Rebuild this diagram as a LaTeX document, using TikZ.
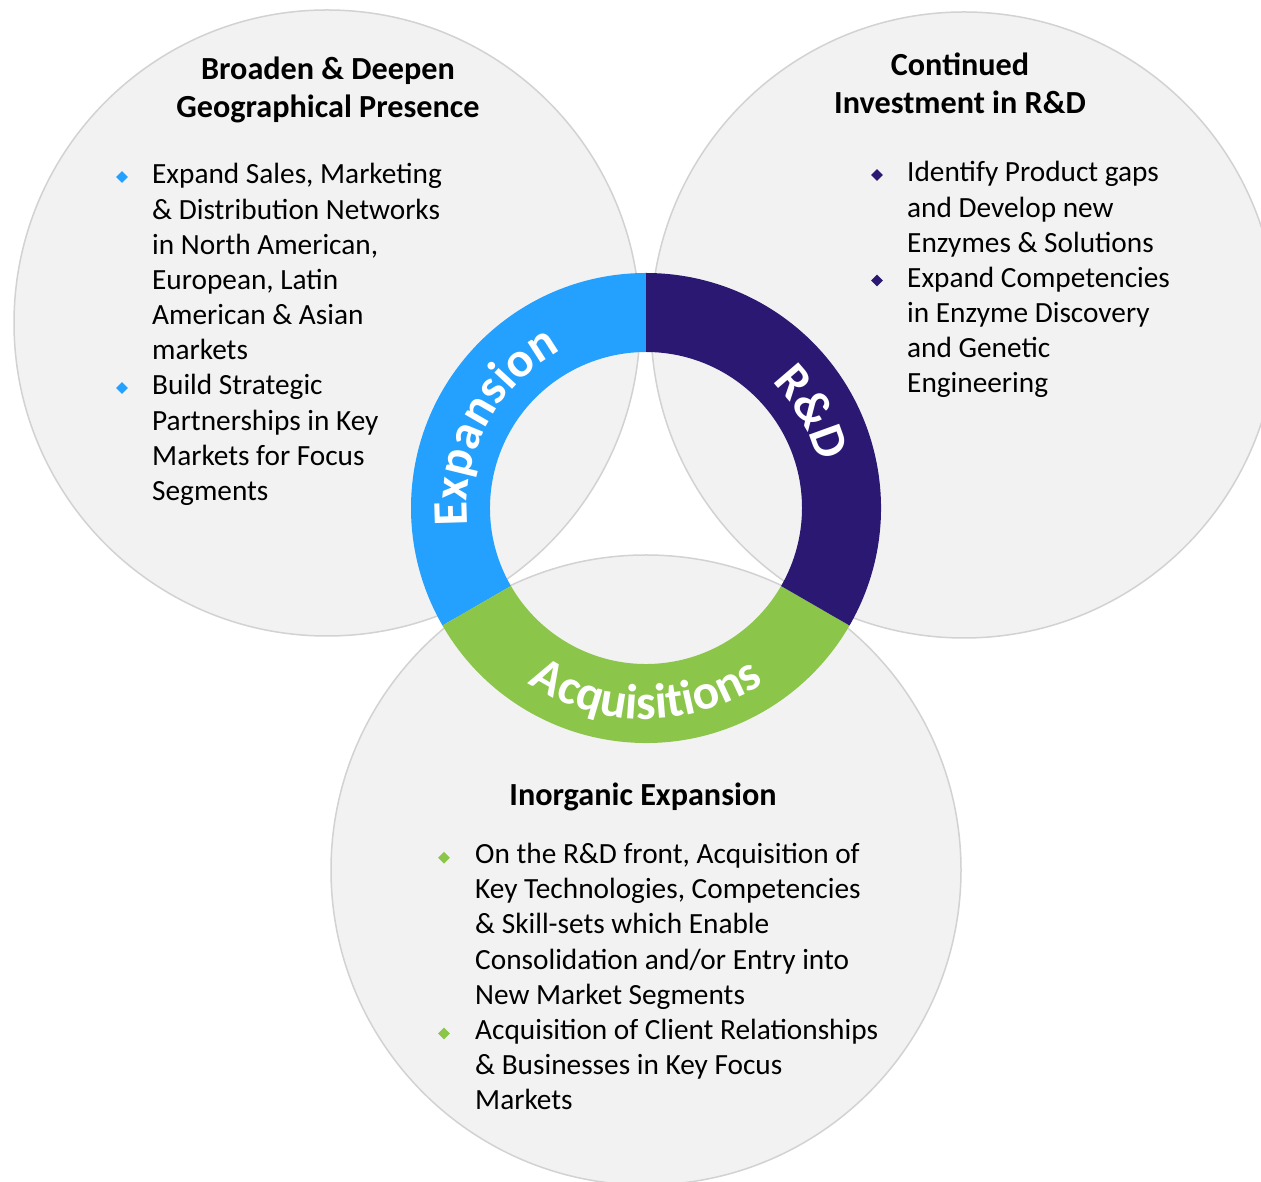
\documentclass[tikz,border=0pt]{standalone}
\usepackage{fontspec}
\setmainfont{Carlito}
\usetikzlibrary{calc,shapes.geometric,decorations.text}
\definecolor{expC}{RGB}{36,160,255}
\definecolor{rndC}{RGB}{43,24,115}
\definecolor{acqC}{RGB}{139,197,74}
\definecolor{discC}{RGB}{242,242,242}
\definecolor{rimC}{RGB}{210,210,210}
\newcommand{\ringfont}{\fontsize{49.5}{49.5}\selectfont\bfseries}
\newcommand{\headfont}{\fontsize{32.2}{38.3}\selectfont\bfseries}
\newcommand{\itemfont}{\fontsize{29.3}{35.15}\selectfont}
\tikzset{
	rim/.style={draw=rimC, line width=1.5pt},
	head/.style={font=\headfont, align=center, inner sep=0pt, anchor=base},
	point/.style={font=\itemfont, align=left, inner sep=0pt, anchor=base west},
	bullet/.style={diamond, inner sep=0pt, minimum size=12pt},
	ringtext/.style={decorate, decoration={text along path, text align=center,
		text color=white, text={|\ringfont|#1}}},
}

\begin{document}
\begin{tikzpicture}[x=1pt, y=1pt]
	
	\useasboundingbox (0,0) rectangle (1261,1181);
	\clip (0,0) rectangle (1261,1181);
	\fill[white] (0,0) rectangle (1261,1181);
	
	% =============== THREE CIRCLES ===============
	\coordinate (c1) at (327,858);
	\coordinate (c2) at (964,856);
	\coordinate (c3) at (646,311);
	\coordinate (rc) at (646,673);
	
	\foreach \c/\r in {c1/313, c2/313, c3/315}
	\fill[discC] (\c) circle[radius=\r];
	\foreach \c/\r in {c1/313, c2/313, c3/315}
	\draw[rim] (\c) circle[radius=\r];
	
	% =============== RING ===============
	\foreach \a/\b/\col in {90/210/expC, 210/330/acqC, -30/90/rndC}
	\fill[\col] ($(rc)+(\a:235)$) arc[start angle=\a, end angle=\b, radius=235]
	-- ($(rc)+(\b:156)$) arc[start angle=\b, end angle=\a, radius=156] -- cycle;
	
	\path[ringtext=Expansion] ($(rc)+(207:179)$) arc[start angle=207, end angle=97, radius=179];
	\path[ringtext=R{\&}D] ($(rc)+(85:178)$) arc[start angle=85, end angle=-25, radius=178];
	\path[ringtext=Acquisitions] ($(rc)+(215:211)$) arc[start angle=215, end angle=325, radius=211];
	
	% =============== EXPANSION (top left) ===============
	% base anchor = baseline of the last line
	\node[head] (h1) at (328,1063.5) {Broaden \& Deepen\\Geographical Presence};
	\node[point] (p1a) at (152,821.25) {Expand Sales, Marketing\\\& Distribution Networks\\in North American,\\European, Latin\\American \& Asian\\markets};
	\node[point] (p1b) at (152,680.55) {Build Strategic\\Partnerships in Key\\Markets for Focus\\Segments};
	\node[bullet, fill=expC] (b1a) at (122,1004) {};
	\node[bullet, fill=expC] (b1b) at (122,793) {};
	
	% =============== R&D (top right) ===============
	\node[head] (h2) at (960,1067) {Continued\\Investment in R\&D};
	\node[point] (p2a) at (907,928.7) {Identify Product gaps\\and Develop new\\Enzymes \& Solutions};
	\node[point] (p2b) at (907,788.05) {Expand Competencies\\in Enzyme Discovery\\and Genetic\\Engineering};
	\node[bullet, fill=rndC] (b2a) at (877,1006) {};
	\node[bullet, fill=rndC] (b2b) at (877,900.5) {};
	
	% =============== ACQUISITIONS (bottom) ===============
	\node[head] (h3) at (643,375.5) {Inorganic Expansion};
	\node[point] (p3a) at (475,176.7) {On the R\&D front, Acquisition of\\Key Technologies, Competencies\\\& Skill-sets which Enable\\Consolidation and/or Entry into\\New Market Segments};
	\node[point] (p3b) at (475,71.2) {Acquisition of Client Relationships\\\& Businesses in Key Focus\\Markets};
	\node[bullet, fill=acqC] (b3a) at (444,323.3) {};
	\node[bullet, fill=acqC] (b3b) at (444,147.5) {};
	
\end{tikzpicture}
\end{document}
